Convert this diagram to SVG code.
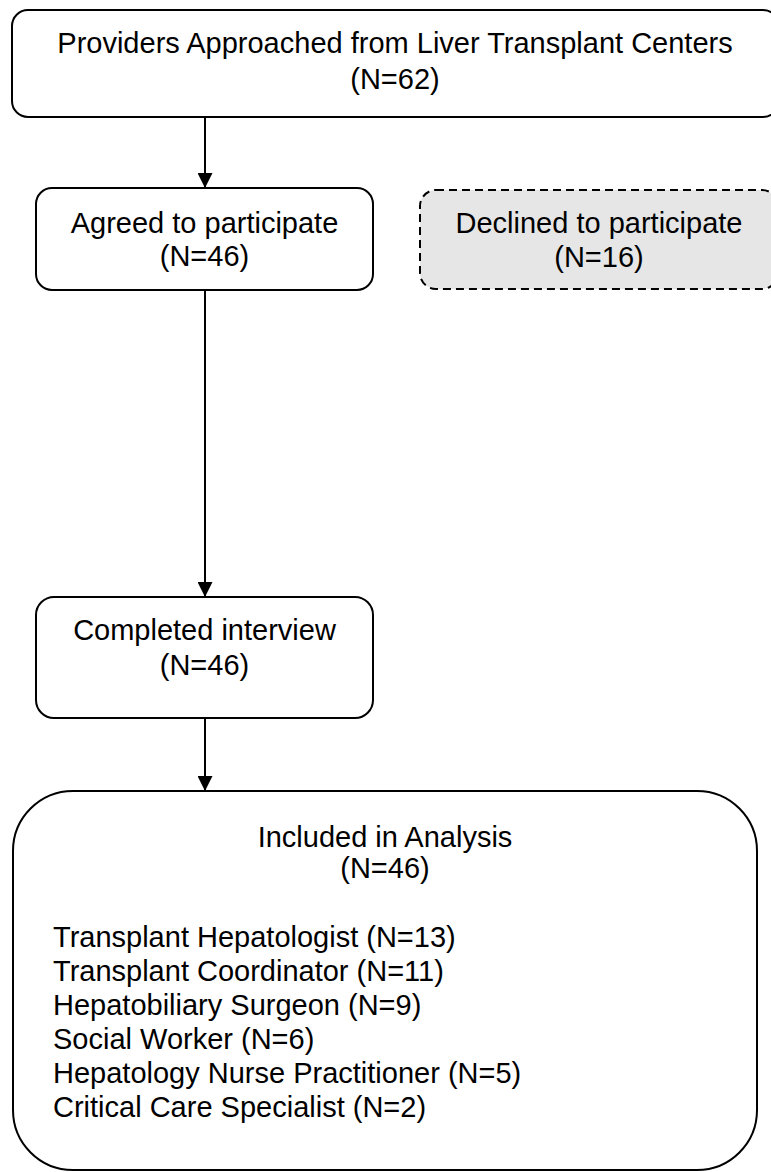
<svg xmlns="http://www.w3.org/2000/svg" width="771" height="1172" viewBox="0 0 771 1172">
<style>
.box{fill:#ffffff;stroke:#000000;stroke-width:2}
.dash{fill:#e6e6e6;stroke:#000000;stroke-width:2;stroke-dasharray:8 5}
.t{font-family:"Liberation Sans",Arial,sans-serif;font-size:29px;fill:#000000}
.c{text-anchor:middle}
.edge{stroke:#000000;stroke-width:2;fill:none;marker-end:url(#ah)}
</style>
<defs>
<marker id="ah" markerWidth="15" markerHeight="15" refX="15" refY="7.5" orient="auto" markerUnits="userSpaceOnUse">
<path d="M0,0 L15,7.5 L0,15 Z" fill="#000000"/>
</marker>
</defs>
<rect width="771" height="1172" fill="#ffffff"/>
<g id="connectors">
<line class="edge" x1="205" y1="117" x2="205" y2="188"/>
<line class="edge" x1="205" y1="290" x2="205" y2="597"/>
<line class="edge" x1="205" y1="718" x2="205" y2="791"/>
</g>
<g id="approached">
<rect class="box" x="12" y="10" width="767" height="107" rx="16" ry="16"/>
<text class="t c" x="395" y="53">Providers Approached from Liver Transplant Centers</text>
<text class="t c" x="395" y="89">(N=62)</text>
</g>
<g id="agreed">
<rect class="box" x="36" y="188" width="337" height="102" rx="16" ry="16"/>
<text class="t c" x="204.5" y="233">Agreed to participate</text>
<text class="t c" x="204.5" y="266">(N=46)</text>
</g>
<g id="declined">
<rect class="dash" x="420" y="190" width="358" height="99" rx="16" ry="16"/>
<text class="t c" x="599" y="233">Declined to participate</text>
<text class="t c" x="599" y="267">(N=16)</text>
</g>
<g id="completed">
<rect class="box" x="36" y="597" width="337" height="121" rx="18" ry="18"/>
<text class="t c" x="204.5" y="640">Completed interview</text>
<text class="t c" x="204.5" y="675">(N=46)</text>
</g>
<g id="analysis">
<rect class="box" x="13" y="791" width="744" height="379" rx="60" ry="60"/>
<text class="t c" x="385" y="847">Included in Analysis</text>
<text class="t c" x="385" y="878">(N=46)</text>
<text class="t" x="53" y="947">Transplant Hepatologist (N=13)</text>
<text class="t" x="53" y="981">Transplant Coordinator (N=11)</text>
<text class="t" x="53" y="1015">Hepatobiliary Surgeon (N=9)</text>
<text class="t" x="53" y="1049">Social Worker (N=6)</text>
<text class="t" x="53" y="1083">Hepatology Nurse Practitioner (N=5)</text>
<text class="t" x="53" y="1117">Critical Care Specialist (N=2)</text>
</g>
</svg>
